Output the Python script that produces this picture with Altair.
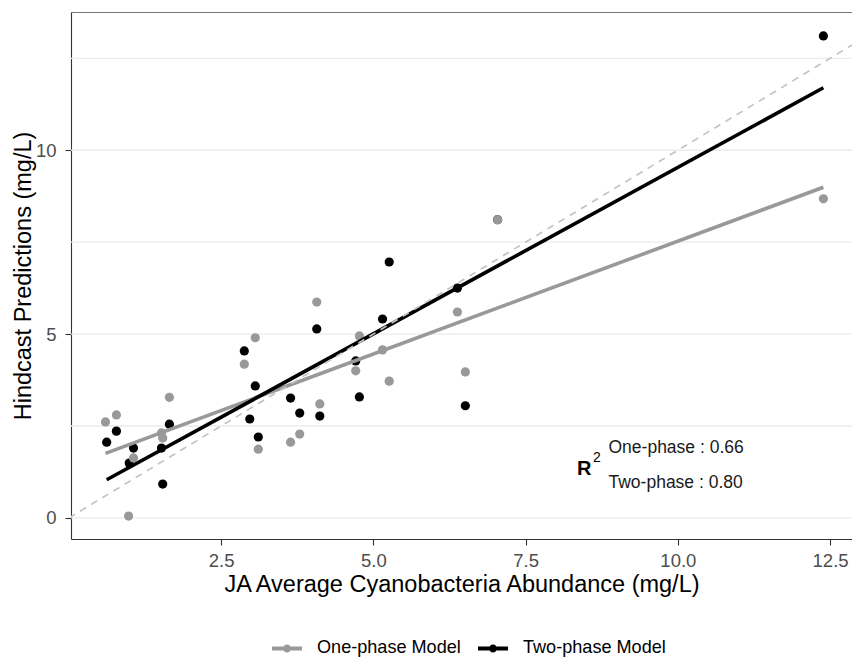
import altair as alt
import pandas as pd

# ---------------- data ----------------
series_names = ["One-phase Model", "Two-phase Model"]
series_colors = ["#999999", "#000000"]

one_x = [0.60, 0.78, 0.98, 1.06, 1.52, 1.54, 1.65, 2.88, 3.06, 3.11, 3.64,
         3.79, 4.07, 4.12, 4.71, 4.77, 5.15, 5.26, 6.38, 6.51, 7.04, 12.39]
one_y = [2.61, 2.80, 0.05, 1.63, 2.31, 2.17, 3.28, 4.18, 4.90, 1.87, 2.06,
         2.28, 5.87, 3.10, 4.00, 4.95, 4.57, 3.72, 5.60, 3.97, 8.11, 8.68]

two_x = [0.62, 0.78, 0.99, 1.06, 1.52, 1.54, 1.65, 2.88, 2.97, 3.06, 3.11, 3.64,
         3.79, 4.07, 4.12, 4.71, 4.77, 5.15, 5.26, 6.38, 6.51, 7.04, 12.39]
two_y = [2.06, 2.36, 1.49, 1.90, 1.90, 0.92, 2.55, 4.54, 2.69, 3.59, 2.20, 3.26,
         2.85, 5.14, 2.77, 4.27, 3.29, 5.41, 6.96, 6.25, 3.05, 8.11, 13.11]

x_ticks = [2.5, 5.0, 7.5, 10.0, 12.5]
y_ticks = [0, 5, 10]
grid_y = [0, 2.5, 5, 7.5, 10, 12.5]
x_domain = [0.034, 12.86]
y_domain = [-0.574, 13.76]
ref_line_x = [0.0, 13.5]          # 1:1 reference line (y = x)

r2_models = ["One-phase", "Two-phase"]
r2_values = [0.66, 0.80]

x_title = "JA Average Cyanobacteria Abundance (mg/L)"
y_title = "Hindcast Predictions (mg/L)"

# ---------------- tables ----------------
pts = pd.DataFrame({
    "x": two_x + one_x,
    "y": two_y + one_y,
    "model": [series_names[1]] * len(two_x) + [series_names[0]] * len(one_x),
})
pts_line = pd.DataFrame({
    "x": one_x + two_x,
    "y": one_y + two_y,
    "model": [series_names[0]] * len(one_x) + [series_names[1]] * len(two_x),
})
grid_df = pd.DataFrame({"g": grid_y})
ref_df = pd.DataFrame({"x": ref_line_x})

FONT = "Liberation Sans"
W, H = 781, 527

xscale = alt.Scale(domain=x_domain, nice=False, zero=False)
yscale = alt.Scale(domain=y_domain, nice=False, zero=False)

xaxis = alt.Axis(values=x_ticks, format=".1f", title=x_title, grid=False,
                 tickSize=6, tickColor="#333333", tickWidth=1.1,
                 domainColor="#333333", domainWidth=1.1,
                 labelColor="#4d4d4d", labelFontSize=18.5, labelFont=FONT,
                 labelPadding=6, titleFont=FONT, titleFontSize=23.5,
                 titleFontWeight="normal", titleColor="#000000",
                 titleBaseline="alphabetic", titleY=52)
yaxis = alt.Axis(values=y_ticks, format="d", title=y_title, grid=False,
                 tickSize=6, tickColor="#333333", tickWidth=1.1,
                 domainColor="#333333", domainWidth=1.1,
                 labelColor="#4d4d4d", labelFontSize=18.5, labelFont=FONT,
                 labelPadding=9, titleFont=FONT, titleFontSize=23.5,
                 titleFontWeight="normal", titleColor="#000000",
                 titleBaseline="alphabetic", titleX=-41, titleY=H / 2,
                 titleAngle=270, titleAlign="center")

legend_symbol = ("M-1,-0.133 L1,-0.133 L1,0.133 L-1,0.133 Z "
                 "M0.27,0 A0.27,0.27 0 1,1 -0.27,0 A0.27,0.27 0 1,1 0.27,0 Z")

grid = alt.Chart(grid_df).mark_rule(color="#ebebeb", strokeWidth=1.3).encode(
    y=alt.Y("g:Q", scale=yscale, axis=yaxis)
)

border = alt.Chart(grid_df).mark_rule(color="#777777", strokeWidth=1).encode(
    x=alt.value(0), x2=alt.value(W), y=alt.value(0.5)
)

points = alt.Chart(pts).mark_circle(size=85, opacity=1).encode(
    x=alt.X("x:Q", scale=xscale, axis=xaxis),
    y=alt.Y("y:Q", scale=yscale, axis=yaxis),
    color=alt.Color(
        "model:N",
        scale=alt.Scale(domain=series_names, range=series_colors),
        legend=alt.Legend(
            title=None, orient="none", legendX=201, legendY=621,
            direction="horizontal", symbolType=legend_symbol, symbolSize=900,
            symbolStrokeWidth=0, symbolOpacity=1, labelFontSize=18.1,
            labelFont=FONT, labelColor="#000000", labelOffset=15,
            columnPadding=17, padding=0,
        ),
    ),
)

lines = alt.Chart(pts_line).transform_regression(
    "x", "y", groupby=["model"]
).mark_line(strokeWidth=3.6, strokeCap="butt").encode(
    x=alt.X("x:Q", scale=xscale, axis=xaxis),
    y=alt.Y("y:Q", scale=yscale, axis=yaxis),
    stroke=alt.Stroke("model:N",
                      scale=alt.Scale(domain=series_names, range=series_colors),
                      legend=None),
    detail="model:N",
)

abline = alt.Chart(ref_df).transform_calculate(y="datum.x").mark_line(
    color="#c4c4c4", strokeWidth=1.7, strokeDash=[7, 6], clip=True
).encode(
    x=alt.X("x:Q", scale=xscale, axis=xaxis),
    y=alt.Y("y:Q", scale=yscale, axis=yaxis),
)

r_txt = alt.Chart(pd.DataFrame({"t": ["R"]})).mark_text(
    font=FONT, fontSize=20, fontWeight="bold", align="left",
    baseline="alphabetic", color="#000000"
).encode(text="t:N", x=alt.value(506), y=alt.value(463))

sup_txt = alt.Chart(pd.DataFrame({"t": ["2"]})).mark_text(
    font=FONT, fontSize=14, align="left", baseline="alphabetic", color="#000000"
).encode(text="t:N", x=alt.value(522), y=alt.value(450.3))

line1 = alt.Chart(pd.DataFrame({"t": [f"{r2_models[0]} : {r2_values[0]:.2f}"]})).mark_text(
    font=FONT, fontSize=17.5, align="left", baseline="alphabetic", color="#1a1a1a"
).encode(text="t:N", x=alt.value(537.5), y=alt.value(440.7))

line2 = alt.Chart(pd.DataFrame({"t": [f"{r2_models[1]} : {r2_values[1]:.2f}"]})).mark_text(
    font=FONT, fontSize=17.5, align="left", baseline="alphabetic", color="#1a1a1a"
).encode(text="t:N", x=alt.value(537.5), y=alt.value(476.3))

chart = alt.layer(
    grid, border, points, lines, abline, r_txt, sup_txt, line1, line2
).properties(
    width=W, height=H,
    padding={"left": 71, "top": 12, "right": 0, "bottom": 119},
    autosize=alt.AutoSizeParams(type="none"),
    background="#ffffff",
).configure_view(stroke=None)

chart.save("out.html", embed_options={"renderer": "svg", "actions": False})
